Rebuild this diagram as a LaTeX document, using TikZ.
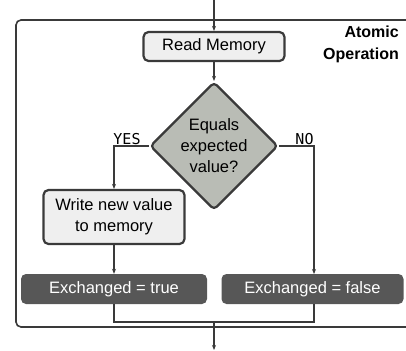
\documentclass[tikz,border=0pt]{standalone}
\usepackage{fontspec}
\setmainfont{Liberation Sans}
\newfontfamily\monofont{DejaVu Sans Mono}
\usetikzlibrary{shapes.geometric,arrows.meta}
\definecolor{edgec}{HTML}{3A3A3A}
\definecolor{lightfill}{HTML}{EFEFEF}
\definecolor{diafill}{HTML}{B9BCB5}
\definecolor{darkfill}{HTML}{575757}
\tikzset{
  lightbox/.style={draw=edgec, line width=2.2pt, fill=lightfill, rounded corners=5pt, align=center, font=\fontsize{16.5}{21}\selectfont, text=black},
  darkbox/.style={fill=darkfill, rounded corners=5pt, text=white, font=\fontsize{16.5}{19}\selectfont, inner sep=0pt},
  decision/.style={diamond, draw=edgec, line width=2.2pt, fill=diafill, rounded corners=4pt, align=center, font=\fontsize{16.5}{21}\selectfont, inner sep=0pt, minimum width=128pt, minimum height=128pt, aspect=1},
  conn/.style={draw=edgec, line width=1.3pt},
  arr/.style={conn, -{Stealth[length=5pt,width=4pt]}},
  branch/.style={font=\monofont\fontsize{15}{17}\selectfont, text=black, inner sep=0pt},
}
\begin{document}
\begin{tikzpicture}[x=1pt,y=-1pt]
\useasboundingbox (0,0) rectangle (406,350);
% frame
\draw[edgec, line width=1.6pt, rounded corners=5pt] (430,20) -- (16,20) -- (16,327) -- (430,327);
\node[font=\bfseries\fontsize{16}{22}\selectfont, align=right, anchor=north east, inner sep=0pt] (title) at (399,26) {Atomic\\Operation};
\coordinate (start) at (214,0);
\node[lightbox, minimum width=141pt, minimum height=29pt, inner sep=0pt] (read) at (214,46.5) {Read Memory};
\node[decision] (eq) at (214,146) {Equals\\expected\\value?};
\node[lightbox, minimum width=141pt, minimum height=54pt, inner sep=0pt] (write) at (114,217) {Write new value\\to memory};
\node[darkbox, minimum width=186pt, minimum height=30pt] (xtrue) at (114,289) {Exchanged = true};
\node[darkbox, minimum width=182pt, minimum height=30pt] (xfalse) at (312.5,289) {Exchanged = false};
\coordinate (join) at (214,322);
\coordinate (end) at (214,350);
\draw[arr] (start) -- (read.north);
\draw[arr] (read.south) -- (eq.north);
\draw[arr] (eq.west) -- (114,146) -- (write.north);
\draw[arr] (eq.east) -- (314,146) -- (314,274);
\draw[arr] (write.south) -- (xtrue.north);
\draw[conn] (xtrue.south) -- (114,322) -- (314,322) -- (314,304);
\draw[arr] (join) -- (end);
\node[branch, anchor=base] (yes) at (127,144) {YES};
\node[branch, anchor=base] (no) at (304.5,144) {NO};
\end{tikzpicture}
\end{document}
